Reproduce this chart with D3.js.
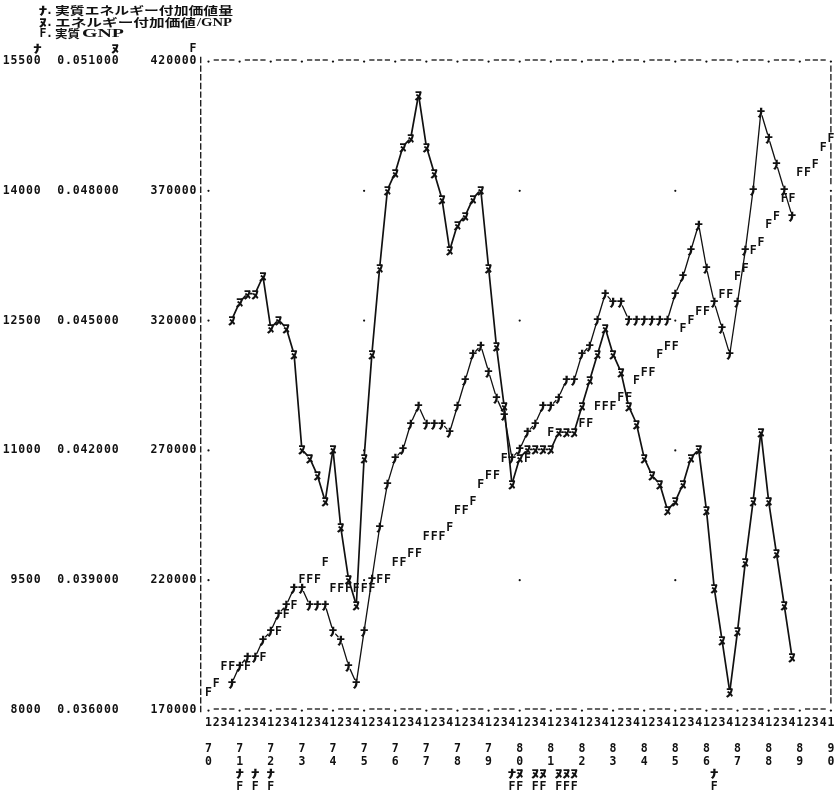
<!DOCTYPE html>
<html><head><meta charset="utf-8">
<script src="https://cdn.jsdelivr.net/npm/d3@7"></script>
<style>
body{margin:0;background:#fff}
svg{filter:grayscale(100%)}
.pc{font-family:"DejaVu Sans Mono",monospace;font-weight:bold;font-size:11.5px;fill:#111}
.kc{font-family:"Noto Sans CJK JP",sans-serif;font-weight:900;font-size:12.5px;fill:#111}
.lg{font-family:"Noto Sans CJK JP",sans-serif;font-weight:bold;font-size:11px;fill:#111}
.sf{font-family:"Liberation Serif",serif;font-weight:bold;font-size:12px;fill:#111}
</style>
</head><body>
<svg id="chart" width="836" height="795"></svg>
<script>
// Quarterly observations, 1970Q1 .. 1990Q1
const years = d3.range(1970, 1991);
const quarterDigits = ["1", "2", "3", "4"];

// ﾅ : real energy value added (from 1970Q4)
const energyStart = 3;
const energyValueAdded = [
  8300, 8500, 8600, 8600, 8800, 8900, 9100, 9200, 9400, 9400, 9200, 9200, 9200,
  8900, 8800, 8500, 8300, 8900, 9500, 10100, 10600, 10900, 11000, 11300, 11500,
  11300, 11300, 11300, 11200, 11500, 11800, 12100, 12200, 11900, 11600, 11400,
  10900, 11000, 11200, 11300, 11500, 11500, 11600, 11800, 11800, 12100, 12200,
  12500, 12800, 12700, 12700, 12500, 12500, 12500, 12500, 12500, 12500, 12800,
  13000, 13300, 13600, 13100, 12700, 12400, 12100, 12700, 13300, 14000, 14900,
  14600, 14300, 14000, 13700
];

// ﾇ : energy value added / GNP (from 1970Q4)
const shareStart = 3;
const energyShareOfGnp = [
  0.0450, 0.0454, 0.0456, 0.0456, 0.0460, 0.0448, 0.0450, 0.0448, 0.0442, 0.0420,
  0.0418, 0.0414, 0.0408, 0.0420, 0.0402, 0.0390, 0.0384, 0.0418, 0.0442, 0.0462,
  0.0480, 0.0484, 0.0490, 0.0492, 0.0502, 0.0490, 0.0484, 0.0478, 0.0466, 0.0472,
  0.0474, 0.0478, 0.0480, 0.0462, 0.0444, 0.0430, 0.0412, 0.0418, 0.0420, 0.0420,
  0.0420, 0.0420, 0.0424, 0.0424, 0.0424, 0.0430, 0.0436, 0.0442, 0.0448, 0.0442,
  0.0438, 0.0430, 0.0426, 0.0418, 0.0414, 0.0412, 0.0406, 0.0408, 0.0412, 0.0418,
  0.0420, 0.0406, 0.0388, 0.0376, 0.0364, 0.0378, 0.0394, 0.0408, 0.0424, 0.0408,
  0.0396, 0.0384, 0.0372
];

// F : real GNP (from 1970Q1)
const gnpStart = 0;
const realGnp = [
  176700, 180000, 186700, 186700, 186700, 186700, 190000, 190000, 200000, 200000,
  206700, 210000, 220000, 220000, 220000, 226700, 216700, 216700, 216700, 216700,
  216700, 216700, 220000, 220000, 226700, 226700, 230000, 230000, 236700, 236700,
  236700, 240000, 246700, 246700, 250000, 256700, 260000, 260000, 266700, 266700,
  266700, 266700, 270000, 270000, 276700, 276700, 276700, 276700, 280000, 280000,
  286700, 286700, 286700, 290000, 290000, 296700, 300000, 300000, 306700, 310000,
  310000, 316700, 320000, 323300, 323300, 326700, 330000, 330000, 336700, 340000,
  346700, 350000, 356700, 360000, 366700, 366700, 376700, 376700, 380000, 386700,
  390000
];

// vertical tick labels, one column per series
const energyTicks = [8000, 9500, 11000, 12500, 14000, 15500];
const shareTicks = [0.036, 0.039, 0.042, 0.045, 0.048, 0.051];
const gnpTicks = [170000, 220000, 270000, 320000, 370000, 420000];

// legend rows: symbol, then runs of text with their start x and width
const legendLines = [
  {sym: "ﾅ", parts: [["実質エネルギー付加価値量", "lg", 55, 178]]},
  {sym: "ﾇ", parts: [["エネルギー付加価値", "lg", 55, 141], ["/GNP", "sf", 197, 35]]},
  {sym: "F", parts: [["実質", "lg", 55, 25], ["GNP", "sf", 82, 42]]}
];

const svg = d3.select("#chart");
svg.append("rect").attr("width", 836).attr("height", 795).attr("fill", "#fff");

// printer grid: one column per quarter, 75 line steps between the extreme ticks
const nCols = (years.length - 1) * 4;
const nRows = 75;
const xCol = d3.scaleLinear().domain([0, nCols]).range([208.5, 830.9]);
const yRow = d3.scaleLinear().domain([0, nRows]).range([709, 60]);
const energyRow = d3.scaleLinear().domain([energyTicks[0], energyTicks[5]]).range([0, nRows]);
const shareRow = d3.scaleLinear().domain([shareTicks[0], shareTicks[5]]).range([0, nRows]);
const gnpRow = d3.scaleLinear().domain([gnpTicks[0], gnpTicks[5]]).range([0, nRows]);
const tickRows = d3.range(0, nRows + 1, 15);

const series = [
  {sym: "ﾇ", cls: "kc", values: energyShareOfGnp, start: shareStart, rs: shareRow, line: 1.7, gap: 3.2},
  {sym: "ﾅ", cls: "kc", values: energyValueAdded, start: energyStart, rs: energyRow, line: 1.3, gap: 4},
  {sym: "F", cls: "pc", values: realGnp, start: gnpStart, rs: gnpRow, line: 0}
];
series.forEach(s => {
  s.pts = s.values.map((v, i) => {
    const col = s.start + i, row = Math.round(s.rs(v));
    return {col, row, v, px: xCol(col), py: yRow(row)};
  });
});

// cell occupancy: first series wins, later ones are hidden and listed under the axis
const occupied = new Map();
const hidden = [];
series.forEach(s => s.pts.forEach(p => {
  const key = p.col + "," + p.row;
  if (occupied.has(key)) { hidden.push({col: p.col, top: occupied.get(key), under: s}); p.hidden = true; }
  else occupied.set(key, s);
}));

// one printed character centred at (x, y); katakana are widened to the printer cell
function glyph(g, x, y, ch, cls) {
  const t = g.append("text").attr("class", cls)
    .attr("text-anchor", "middle").attr("dominant-baseline", "central").text(ch);
  if (cls === "kc") t.attr("transform", `translate(${x},${y}) scale(1.35,0.9)`);
  else t.attr("x", x).attr("y", y);
  return t;
}

// frame: dashed top and bottom rules
const frame = svg.append("g").attr("stroke", "#111").attr("fill", "#111");
[0, nRows].forEach(r => {
  d3.range(0, nCols + 1).forEach(c => {
    if (c % 4 === 0) frame.append("circle").attr("cx", xCol(c)).attr("cy", yRow(r) + 1.6).attr("r", 1.15).attr("stroke", "none");
    else frame.append("line").attr("x1", xCol(c) - 2.6).attr("x2", xCol(c) + 2.6)
      .attr("y1", yRow(r)).attr("y2", yRow(r)).attr("stroke-width", 1.3);
  });
});
// left border on every row, right border between the rules
d3.range(0, nRows + 1).forEach(r => {
  frame.append("line").attr("x1", xCol(-1)).attr("x2", xCol(-1))
    .attr("y1", yRow(r) - 3.2).attr("y2", yRow(r) + 3.2).attr("stroke-width", 1.3);
  if (r > 0 && r < nRows && !occupied.has(nCols + "," + r)) {
    if (r % 15 === 0) frame.append("circle").attr("cx", xCol(nCols)).attr("cy", yRow(r) + 1).attr("r", 1.1).attr("stroke", "none");
    else frame.append("line").attr("x1", xCol(nCols)).attr("x2", xCol(nCols))
      .attr("y1", yRow(r) - 3.2).attr("y2", yRow(r) + 3.2).attr("stroke-width", 1.3);
  }
});
// reference dots every five years on the tick rows
d3.range(0, nCols, 20).forEach(c => tickRows.slice(1, -1).forEach(r => {
  if (!occupied.has(c + "," + r))
    frame.append("circle").attr("cx", xCol(c)).attr("cy", yRow(r) + 1).attr("r", 1.1).attr("stroke", "none");
}));

// connecting lines for ﾅ and ﾇ, stopped short of each symbol
series.filter(s => s.line).forEach(s => {
  const segs = [];
  for (let i = 1; i < s.pts.length; i++) {
    const a = s.pts[i - 1], b = s.pts[i];
    const dx = b.px - a.px, dy = b.py - a.py, L = Math.hypot(dx, dy);
    if (L <= 2 * s.gap + 1) continue;
    const ux = dx / L, uy = dy / L;
    segs.push([a.px + ux * s.gap, a.py + uy * s.gap, b.px - ux * s.gap, b.py - uy * s.gap]);
  }
  svg.append("g").selectAll("line").data(segs).join("line")
    .attr("x1", d => d[0]).attr("y1", d => d[1]).attr("x2", d => d[2]).attr("y2", d => d[3])
    .attr("stroke", "#111").attr("stroke-width", s.line).attr("stroke-linecap", "round");
});

// plotted symbols
series.forEach(s => {
  const g = svg.append("g");
  s.pts.filter(p => !p.hidden).forEach(p => glyph(g, p.px, p.py, s.sym, s.cls));
});

// text laid out on the printer columns
function putString(str, lastCol, y, cls) {
  const chars = Array.from(str);
  const g = svg.append("g");
  chars.forEach((ch, i) => glyph(g, xCol(lastCol - (chars.length - 1 - i)), y, ch, cls || "pc"));
}
tickRows.forEach((r, i) => {
  putString(String(energyTicks[i]), -22, yRow(r));
  putString(shareTicks[i].toFixed(6), -12, yRow(r));
  putString(String(gnpTicks[i]), -2, yRow(r));
});
// column headers
[["ﾅ", -22, "kc"], ["ﾇ", -12, "kc"], ["F", -2, "pc"]].forEach(h => putString(h[0], h[1], 47.5, h[2]));

// quarter digits and two-line year labels
const qAxis = d3.range(0, nCols + 1);
svg.append("g").selectAll("text").data(qAxis).join("text")
  .attr("class", "pc").attr("x", c => xCol(c)).attr("y", 722)
  .attr("text-anchor", "middle").attr("dominant-baseline", "central").text(c => quarterDigits[c % 4]);
years.forEach((yr, k) => {
  const yy = String(yr % 100).padStart(2, "0");
  putString(yy[0], k * 4, 748);
  putString(yy[1], k * 4, 760.5);
});
// hidden observations listed under their columns
hidden.forEach(h => {
  putString(h.top.sym, h.col, 773, h.top.cls);
  putString(h.under.sym, h.col, 785.5, h.under.cls);
});

// legend
const lg = svg.append("g");
legendLines.forEach((l, i) => {
  const y = 10 + i * 11.6;
  glyph(lg, 43, y, l.sym, l.sym === "F" ? "pc" : "kc");
  glyph(lg, 49.5, y, ".", "pc");
  l.parts.forEach(p => {
    lg.append("text").attr("class", p[1]).attr("x", p[2]).attr("y", y)
      .attr("dominant-baseline", "central")
      .attr("textLength", p[3]).attr("lengthAdjust", "spacingAndGlyphs").text(p[0]);
  });
});
</script>
</body></html>
